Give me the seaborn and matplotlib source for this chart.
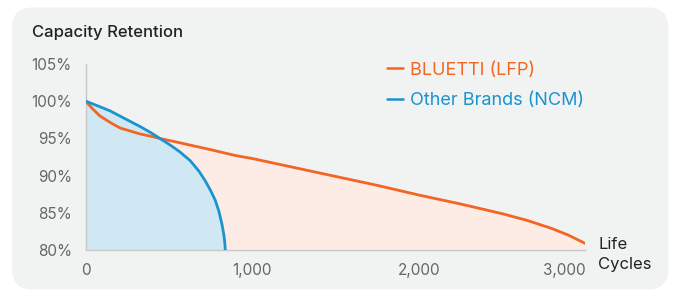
import numpy as np
import pandas as pd
import seaborn as sns
import matplotlib.pyplot as plt
from matplotlib.patches import FancyBboxPatch

# values
cycles_lfp = [0, 40, 86, 150, 206, 326, 389, 445, 568, 748, 900, 1000, 1250, 1500,
              1750, 2000, 2250, 2500, 2650, 2800, 2900, 3000]
ret_lfp = [100, 99.0, 98.0, 97.1, 96.4, 95.6, 95.3, 95.0, 94.4, 93.5, 92.7, 92.3, 91.1,
           89.9, 88.7, 87.4, 86.2, 84.9, 84.0, 82.9, 82.0, 80.9]
cycles_ncm = [0, 80, 146, 240, 326, 389, 445, 508, 565, 628, 680, 718, 750, 778,
              800, 818, 830, 836, 838]
ret_ncm = [100, 99.3, 98.7, 97.6, 96.6, 95.8, 95.0, 94.1, 93.2, 92.0, 90.6, 89.3,
           88.0, 86.7, 85.2, 83.5, 82.0, 80.8, 80.0]
series_names = ["BLUETTI (LFP)", "Other Brands (NCM)"]
x_ticks = [0, 1000, 2000, 3000]
x_labels = ["0", "1,000", "2,000", "3,000"]
y_ticks = [80, 85, 90, 95, 100, 105]
y_labels = ["80%", "85%", "90%", "95%", "100%", "105%"]

orange = "#f26522"
blue = "#1b93cf"
orange_fill = "#fdece5"
blue_fill = "#cfe8f3"

sns.set_style("white")
plt.rcParams["font.family"] = ["Inter", "DejaVu Sans"]

lfp = pd.DataFrame({"cycles": cycles_lfp, "ret": ret_lfp, "series": series_names[0]})
ncm = pd.DataFrame({"cycles": cycles_ncm, "ret": ret_ncm, "series": series_names[1]})
df = pd.concat([lfp, ncm])

fig = plt.figure(figsize=(6.75, 2.96), dpi=100, facecolor="white")
panel = FancyBboxPatch((0.018, 0.022), 0.972, 0.953, boxstyle="round,pad=0,rounding_size=0.03",
                       transform=fig.transFigure, facecolor="#f1f3f3", edgecolor="none",
                       mutation_aspect=6.75 / 2.96, zorder=-5)
fig.patches.append(panel)

ax = fig.add_axes([0.127, 0.155, 0.74, 0.629])
ax.set_facecolor("none")
ax.set_zorder(2)

ax.fill_between(cycles_lfp, ret_lfp, 80, color=orange_fill, lw=0, zorder=1)
ax.fill_between(cycles_ncm, ret_ncm, 80, color=blue_fill, lw=0, zorder=2)
sns.lineplot(data=df, x="cycles", y="ret", hue="series", palette=[orange, blue],
             hue_order=series_names, sort=False, lw=2, ax=ax, zorder=3)

ax.set_xlim(0, 3000)
ax.set_ylim(80, 105)
ax.set_xticks(x_ticks)
ax.set_xticklabels(x_labels)
ax.set_yticks(y_ticks)
ax.set_yticklabels(y_labels)
ax.get_xticklabels()[-1].set_ha("right")
ax.tick_params(length=0, labelsize=11, labelcolor="#666666")
ax.tick_params(axis="x", pad=9)
ax.tick_params(axis="y", pad=10)
for s in ["top", "right"]:
    ax.spines[s].set_visible(False)
for s in ["left", "bottom"]:
    ax.spines[s].set_color("#c8c8c8")
    ax.spines[s].set_linewidth(1)
ax.set_xlabel("")
ax.set_ylabel("")

leg = ax.legend(loc="upper left", bbox_to_anchor=(0.549, 0.847), bbox_transform=fig.transFigure,
                frameon=False, handlelength=0.9, handletextpad=0.4, labelspacing=0.75,
                fontsize=13, labelcolor="linecolor")
for line in leg.get_lines():
    line.set_linewidth(1.8)

fig.text(0.048, 0.89, "Capacity Retention", fontsize=12, fontweight="medium", color="#222222", va="center")
fig.text(0.886, 0.14, "Life\nCycles", fontsize=12, color="#222222", va="center", linespacing=1.4)

plt.savefig("out.png", dpi=100)
